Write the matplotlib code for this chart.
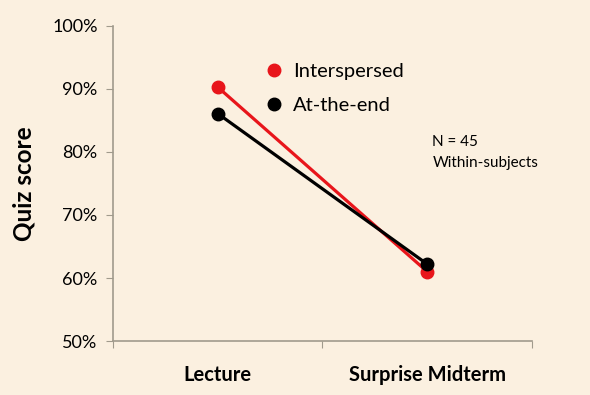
import matplotlib.pyplot as plt
from matplotlib.lines import Line2D

# data
categories = ['Lecture', 'Surprise Midterm']
interspersed = [90.3, 61.0]
at_the_end = [86.1, 62.2]
series_names = ['Interspersed', 'At-the-end']
yticks = [50, 60, 70, 80, 90, 100]

bg = '#fbf0e0'
axis_col = '#a09a8c'
red = '#e8151b'

plt.rcParams['font.family'] = ['Lato', 'DejaVu Sans']

fig = plt.figure(figsize=(5.9, 3.95), dpi=100)
fig.patch.set_facecolor(bg)
ax = fig.add_axes([0.1915, 0.1367, 0.7102, 0.7975])
ax.set_facecolor(bg)

x = list(range(len(categories)))
ax.plot(x, interspersed, color=red, lw=2.3, marker='o', ms=9, zorder=3)
ax.plot(x, at_the_end, color='black', lw=2.3, marker='o', ms=9, zorder=4)

ax.set_xlim(-0.5, 1.5)
ax.set_ylim(50, 100)
ax.set_yticks(yticks)
ax.set_yticklabels([f'{v}%' for v in yticks], fontsize=13)

# category ticks at boundaries, labels at centres
ax.set_xticks([-0.5, 0.5, 1.5])
ax.set_xticklabels([])
ax.set_xticks(x, minor=True)
ax.set_xticklabels(categories, minor=True, fontsize=14.5, fontweight='bold')
ax.tick_params(axis='x', which='minor', length=0, pad=17)
ax.tick_params(axis='x', which='major', length=5, color=axis_col, direction='out')
ax.tick_params(axis='y', length=5, color=axis_col, direction='out', pad=6)

for s in ['top', 'right']:
    ax.spines[s].set_visible(False)
for s in ['left', 'bottom']:
    ax.spines[s].set_color(axis_col)
    ax.spines[s].set_linewidth(1.2)

ax.set_ylabel('Quiz score', fontsize=17.5, fontweight='bold', labelpad=12)

handles = [Line2D([], [], color=red, marker='o', ls='', ms=9),
           Line2D([], [], color='black', marker='o', ls='', ms=9)]
ax.legend(handles, series_names, loc='upper left', bbox_to_anchor=(0.36, 0.882),
          frameon=False, fontsize=14.5, handletextpad=0.45, labelspacing=0.85,
          borderaxespad=0, borderpad=0, handlelength=1.0)

ax.text(0.762, 0.632, 'N = 45', transform=ax.transAxes, fontsize=11, va='center')
ax.text(0.762, 0.565, 'Within-subjects', transform=ax.transAxes, fontsize=11, va='center')

fig.savefig('out.png', dpi=100, facecolor=bg)
